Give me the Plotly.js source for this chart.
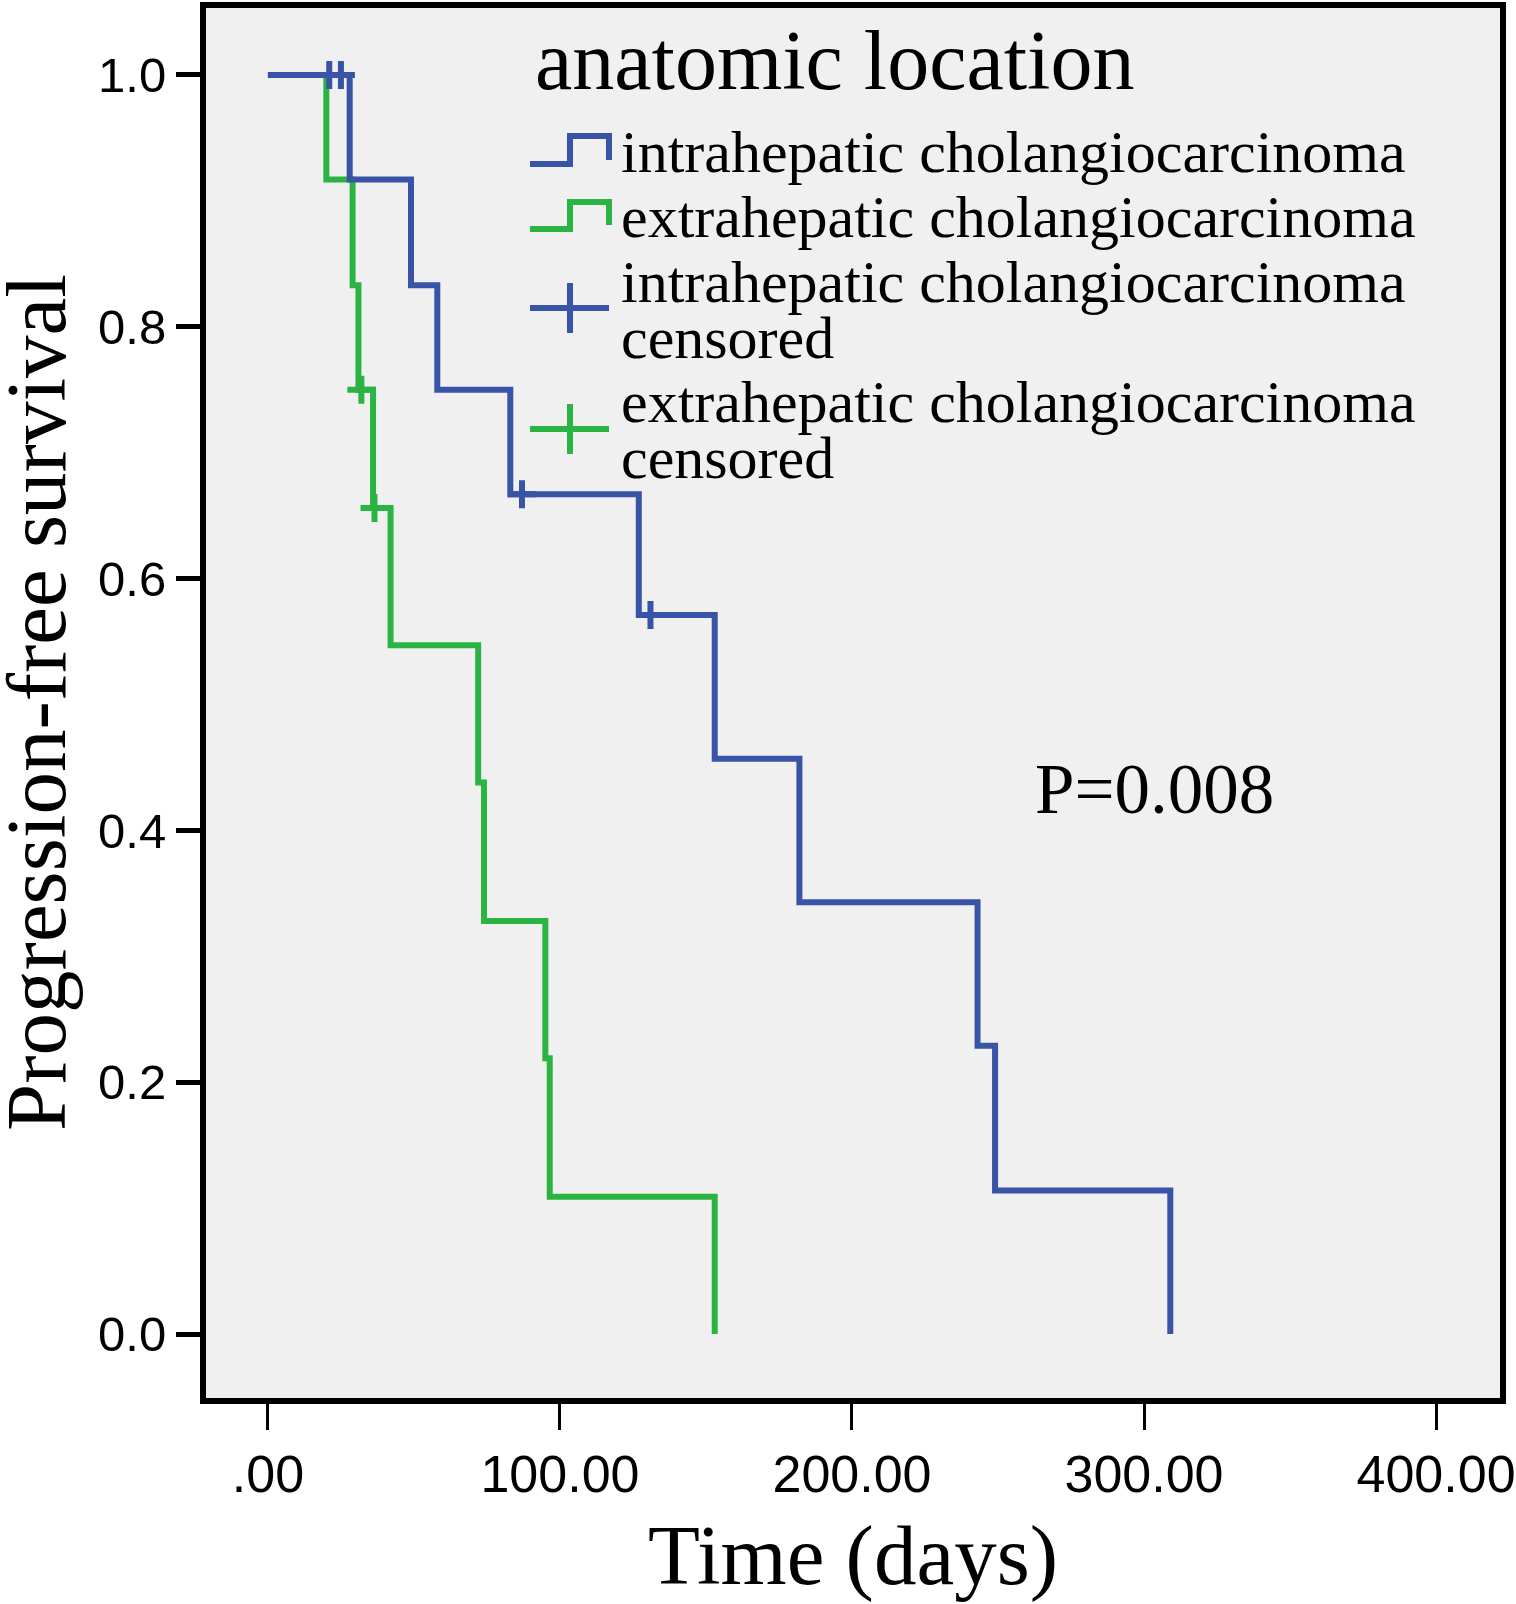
<!DOCTYPE html>
<html>
<head>
<meta charset="utf-8">
<script src="https://cdn.plot.ly/plotly-3.0.1.min.js"></script>
<style>
  body { margin: 0; background: #fff; }
  #plot { width: 1516px; height: 1604px; }
</style>
</head>
<body>
<div id="plot"></div>
<script>
// Kaplan-Meier steps
const intraTime = [0, 28, 49, 58, 83, 127, 153, 182, 243, 249, 309];
const intraSurv = [1.0, 0.917, 0.833, 0.75, 0.667, 0.571, 0.457, 0.343, 0.229, 0.114, 0.0];
const intraCensTime = [21, 25, 87, 131];
const intraCensSurv = [1.0, 1.0, 0.667, 0.571];

const extraTime = [0, 20, 29, 31, 36, 42, 72, 74, 95, 96.5, 153];
const extraSurv = [1.0, 0.917, 0.833, 0.75, 0.656, 0.547, 0.438, 0.328, 0.219, 0.109, 0.0];
const extraCensTime = [32, 36.5];
const extraCensSurv = [0.75, 0.656];

const xTickVals = [0, 100, 200, 300, 400];
const xTickText = ['.00', '100.00', '200.00', '300.00', '400.00'];
const yTickVals = [0, 0.2, 0.4, 0.6, 0.8, 1.0];

const legendTitle = 'anatomic location';
const legendLabels = [
    ['intrahepatic cholangiocarcinoma'],
    ['extrahepatic cholangiocarcinoma'],
    ['intrahepatic cholangiocarcinoma', 'censored'],
    ['extrahepatic cholangiocarcinoma', 'censored']
];
const pValue = 'P=0.008';
const yTitle = 'Progression-free survival';

const BLUE = '#3953a6';
const GREEN = '#2bb443';
const SERIF = 'Liberation Serif, Times New Roman, serif';
const SANS = 'Liberation Sans, Arial, sans-serif';

window.onload = main;

// page size and plot box, in pixels
const W = 1516, H = 1604;
const M = {l: 206, r: 16, t: 8, b: 206};
const PW = W - M.l - M.r, PH = H - M.t - M.b;

// pixel -> paper coordinates (only for legend/decoration placement)
function px(x) { return (x - M.l) / PW; }
function py(y) { return (H - M.b - y) / PH; }

function main() {
    const step = (t, s, color) => ({
        x: t, y: s, type: 'scatter', mode: 'lines',
        line: {shape: 'hv', color: color, width: 6},
        hoverinfo: 'skip'
    });
    const cens = (t, s, color) => ({
        x: t, y: s, type: 'scatter', mode: 'markers',
        marker: {symbol: 'cross-thin', size: 20, line: {color: color, width: 6}},
        hoverinfo: 'skip'
    });

    const data = [
        step(extraTime, extraSurv, GREEN),
        step(intraTime, intraSurv, BLUE),
        cens(extraCensTime, extraCensSurv, GREEN),
        cens(intraCensTime, intraCensSurv, BLUE)
    ];

    // legend drawn by hand: step icons and crosses
    const shapes = [];
    const stepIcon = (yLow, yTop, color) => {
        const path = `M ${px(530)} ${py(yLow)} L ${px(570)} ${py(yLow)} L ${px(570)} ${py(yTop)} ` +
                     `L ${px(609)} ${py(yTop)} L ${px(609)} ${py(yLow - 4)}`;
        shapes.push({type: 'path', xref: 'paper', yref: 'paper', path: path,
                     line: {color: color, width: 6}});
    };
    const crossIcon = (yc, color) => {
        shapes.push({type: 'line', xref: 'paper', yref: 'paper',
                     x0: px(530), x1: px(609), y0: py(yc), y1: py(yc), line: {color: color, width: 6}});
        shapes.push({type: 'line', xref: 'paper', yref: 'paper',
                     x0: px(570), x1: px(570), y0: py(yc - 25), y1: py(yc + 25), line: {color: color, width: 6}});
    };
    stepIcon(164, 136, BLUE);
    stepIcon(229, 202, GREEN);
    crossIcon(308, BLUE);
    crossIcon(429, GREEN);

    const annotations = [];
    const label = (text, x, yc, size) => annotations.push({
        text: text, xref: 'paper', yref: 'paper', x: px(x), y: py(yc),
        xanchor: 'left', yanchor: 'middle', showarrow: false,
        font: {family: SERIF, size: size, color: '#000'}
    });
    label(legendTitle, 533, 61, 84);
    const rowCenters = [[152], [217], [282, 338], [402, 458]];
    legendLabels.forEach((lines, i) => {
        lines.forEach((ln, j) => label(ln, 619, rowCenters[i][j], 60));
    });
    label(pValue, 1033, 789, 71);

    // y title as a rotated annotation so it can sit right at the page edge
    annotations.push({
        text: yTitle, xref: 'paper', yref: 'paper', x: px(36), y: py(703),
        xanchor: 'center', yanchor: 'middle', textangle: -90, showarrow: false,
        font: {family: SERIF, size: 85, color: '#000'}
    });

    const layout = {
        width: W, height: H,
        margin: M,
        paper_bgcolor: '#ffffff',
        plot_bgcolor: '#f0f0f0',
        showlegend: false,
        xaxis: {
            range: [-21.2, 421.9],
            tickvals: xTickVals, ticktext: xTickText,
            ticks: 'outside', ticklen: 26, tickwidth: 3, tickcolor: '#000',
            tickfont: {family: SANS, size: 52, color: '#000'},
            showline: true, mirror: true, linewidth: 6, linecolor: '#000',
            showgrid: false, zeroline: false,
            title: {text: 'Time (days)', font: {family: SERIF, size: 85, color: '#000'}, standoff: 24}
        },
        yaxis: {
            range: [-0.0508, 1.0532],
            tickvals: yTickVals, tickformat: '.1f',
            ticks: 'outside', ticklen: 24, tickwidth: 5, tickcolor: '#000',
            tickfont: {family: SANS, size: 49, color: '#000'},
            showline: true, mirror: true, linewidth: 6, linecolor: '#000',
            showgrid: false, zeroline: false
        },
        shapes: shapes,
        annotations: annotations
    };

    Plotly.newPlot('plot', data, layout, {displayModeBar: false, staticPlot: true});
}
</script>
</body>
</html>
